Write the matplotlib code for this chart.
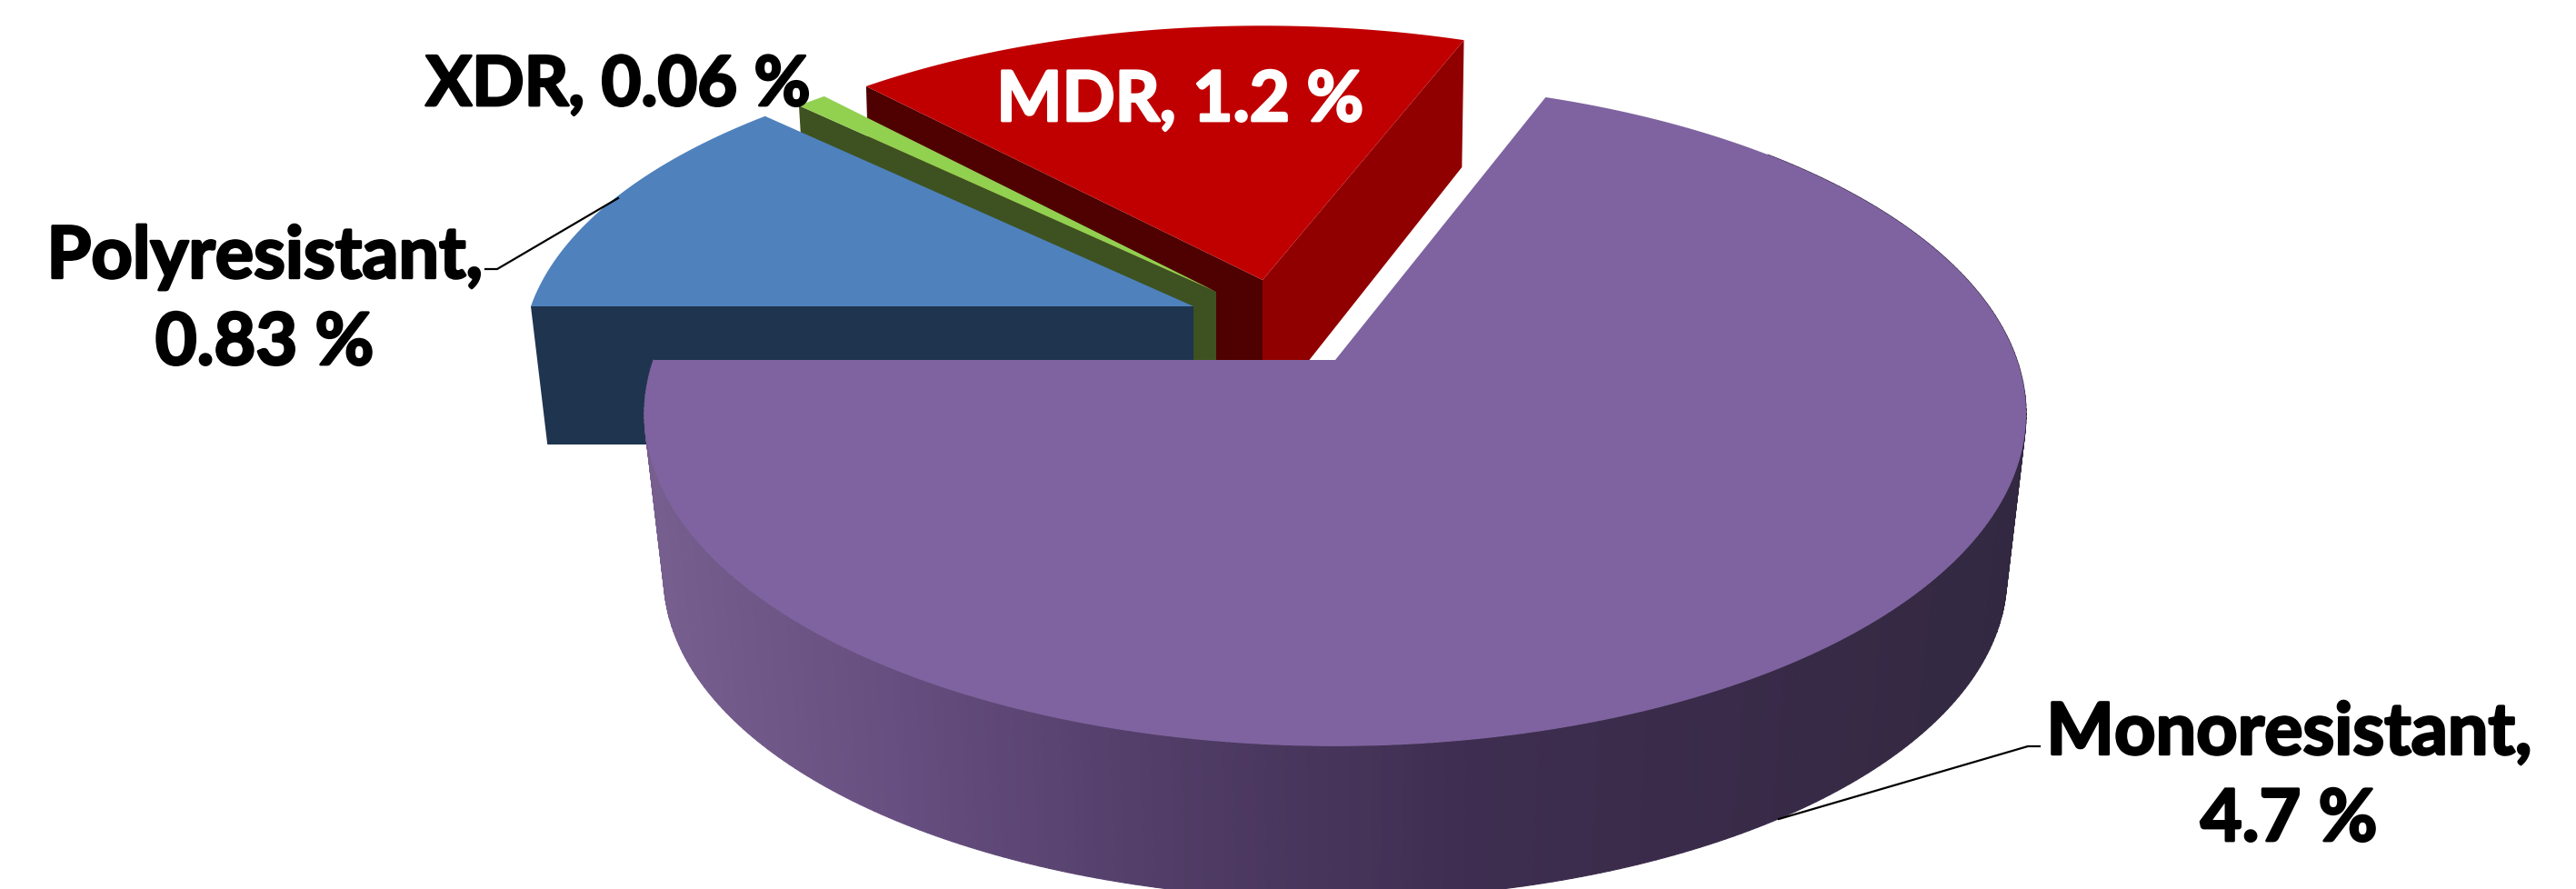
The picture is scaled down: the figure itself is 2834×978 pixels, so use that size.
import numpy as np
import matplotlib
matplotlib.use('Agg')
import matplotlib.pyplot as plt
import matplotlib.patheffects as pe
from matplotlib.collections import PolyCollection

# resistance categories, clockwise from the left of the pie
categories = ['Polyresistant', 'XDR', 'MDR', 'Monoresistant']
values = [0.83, 0.06, 1.2, 4.7]

# perspective of the tilted pie
persp = 0.162

# apex x, apex y, radius x, radius y, depth, bottom scale x, bottom scale y
geometry = {
    'Polyresistant': (1313, 338, 729, 335, 152, 0.975, 1.0),
    'XDR': (1338, 322, 710, 328, 153, 0.98, 1.0),
    'MDR': (1389, 309, 718, 325, 153, 0.99, 1.05),
    'Monoresistant': (1469, 397, 750, 356, 181, 0.972, 0.97),
}
top_colors = {'Polyresistant': '#4F81BD', 'XDR': '#92D050', 'MDR': '#C00000', 'Monoresistant': '#7F63A0'}
side_colors = {'Polyresistant': '#1F344F', 'XDR': '#3D5220', 'MDR': '#4F0000'}
MDR_OUTER = '#900000'


def project(name, deg, bottom=False):
    ax0, ay0, rx, ry, depth, fx, fy = geometry[name]
    t = np.radians(deg)
    w = 1 + persp * np.sin(t)
    x = rx * np.cos(t) / w
    y = -ry * np.sin(t) / w
    if bottom:
        return ax0 + fx * x, ay0 + depth + fy * y
    return ax0 + x, ay0 + y


def top_face(name, a1, a2):
    ts = np.linspace(a1, a2, 240)
    xs, ys = project(name, ts)
    ax0, ay0 = geometry[name][:2]
    return np.r_[ax0, xs], np.r_[ay0, ys]


def radial_wall(name, deg):
    ax0 = geometry[name][0]
    ay0 = geometry[name][1]
    ex, ey = project(name, deg)
    bx, by = project(name, deg, bottom=True)
    return [ax0, ex, bx, ax0], [ay0, ey, by, ay0 + geometry[name][4]]


# angles from the values, clockwise starting at 180 degrees
total = sum(values)
angles = {}
a = 180.0
for cat, val in zip(categories, values):
    angles[cat] = (a, a - val / total * 360)
    a = a - val / total * 360

fig = plt.figure(figsize=(28.34, 9.79), dpi=100)
ax = fig.add_axes([0, 0, 1, 1])
ax.set_xlim(0, 2834)
ax.set_ylim(979, 0)
ax.axis('off')

# MDR
a1, a2 = angles['MDR']
x, y = radial_wall('MDR', a2)
ax.fill(x, y, color=MDR_OUTER, lw=0, zorder=1)
x, y = radial_wall('MDR', a1)
ax.fill(x, y, color=side_colors['MDR'], lw=0, zorder=2)
x, y = top_face('MDR', a1, a2)
ax.fill(x, y, color=top_colors['MDR'], lw=0, zorder=3)

# XDR
a1, a2 = angles['XDR']
x, y = radial_wall('XDR', a1)
ax.fill(x, y, color=side_colors['XDR'], lw=0, zorder=4)
x, y = top_face('XDR', a1, a2)
ax.fill(x, y, color=top_colors['XDR'], lw=0, zorder=5)

# Polyresistant
a1, a2 = angles['Polyresistant']
x, y = radial_wall('Polyresistant', a1)
ax.fill(x, y, color=side_colors['Polyresistant'], lw=0, zorder=6)
x, y = top_face('Polyresistant', a1, a2)
ax.fill(x, y, color=top_colors['Polyresistant'], lw=0, zorder=7)

# Monoresistant: curved wall as thin strips shaded along x
a1, a2 = angles['Monoresistant']
ts = np.linspace(180, 405, 300)
tx, ty = project('Monoresistant', ts)
bx, by = project('Monoresistant', ts, bottom=True)
quads = []
mids = []
for i in range(len(ts) - 1):
    quads.append([(tx[i], ty[i]), (tx[i + 1], ty[i + 1]), (bx[i + 1], by[i + 1]), (bx[i], by[i])])
    mids.append((bx[i] + bx[i + 1]) / 2)
stops_x = [710, 1000, 1300, 1620, 2240]
stops_rgb = np.array([[0x78, 0x60, 0x90], [0x66, 0x4E, 0x80], [0x50, 0x3C, 0x66], [0x3E, 0x2D, 0x50], [0x32, 0x28, 0x40]]) / 255
cols = np.array([np.interp(mids, stops_x, stops_rgb[:, k]) for k in range(3)]).T
ax.add_collection(PolyCollection(quads, facecolors=cols, edgecolors=cols, linewidths=0.8, zorder=8))
x, y = top_face('Monoresistant', a1, a2)
ax.fill(x, y, color=top_colors['Monoresistant'], lw=0, zorder=9)

# leader lines
ax.plot([680, 547, 534], [219, 297, 297], color='black', lw=1.6, zorder=10)
ax.plot([1957, 2231, 2244], [902, 822, 822], color='black', lw=1.6, zorder=10)

# labels, the stroke thickens Lato towards the heavier look of the original
font = dict(family='Lato', weight='bold', ha='center', va='baseline', zorder=11)
black = [pe.withStroke(linewidth=2, foreground='black')]
white = [pe.withStroke(linewidth=2, foreground='white')]
ax.text(680, 117, 'XDR, 0.06 %', color='black', fontsize=54.5, path_effects=black, **font)
ax.text(1298, 134, 'MDR, 1.2 %', color='white', fontsize=55, path_effects=white, **font)
ax.text(291, 402, 'Polyresistant,\n0.83 %', color='black', fontsize=57, linespacing=1.4, path_effects=black, **font)
ax.text(2518, 926, 'Monoresistant,\n4.7 %', color='black', fontsize=57, linespacing=1.4, path_effects=black, **font)

fig.savefig('out.png', dpi=100, facecolor='white')
